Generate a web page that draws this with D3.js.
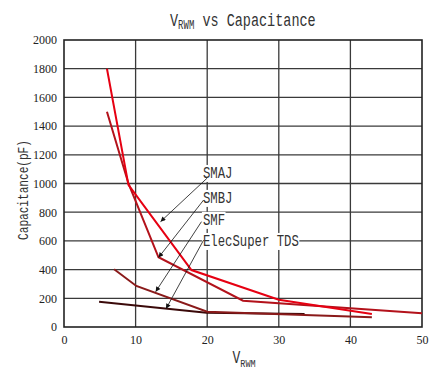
<!DOCTYPE html>
<html><head><meta charset="utf-8">
<script src="https://cdn.jsdelivr.net/npm/d3@7/dist/d3.min.js"></script>
<style>html,body{margin:0;padding:0;background:#fff;}svg{display:block;}
.tick text{font-family:"Liberation Serif","DejaVu Serif",serif !important;}</style>
</head><body>
<svg id="c" width="436" height="381"></svg>
<script>
// ---- data ----
const xTicks = [0, 10, 20, 30, 40, 50];
const yTicks = [0, 200, 400, 600, 800, 1000, 1200, 1400, 1600, 1800, 2000];
const seriesNames = ["SMAJ", "SMBJ", "SMF", "ElecSuper TDS"];
const smajV = [6, 9, 17.8, 30, 43];
const smajC = [1800, 990, 397, 190, 90];
const smbjV = [6, 9, 13.2, 25, 50];
const smbjC = [1500, 1000, 486, 183, 95];
const smfV = [7, 10.1, 20, 43];
const smfC = [402, 286, 107, 68];
const tdsV = [4.9, 19.9, 33.6];
const tdsC = [176, 100, 90];
// annotation: label anchor (V, C) and arrow tip (V, C)
const labelV = [19.4, 19.4, 19.4, 19.4];
const labelC = [1038, 864, 711, 564];
const arrowFromV = [20.0, 19.5, 19.2, 19.5];
const arrowFromC = [1038, 885, 734, 606];
const arrowToV = [13.48, 13.2, 12.8, 14.25];
const arrowToC = [734, 484, 246, 127];

const colors = ["#e60012", "#b3121b", "#8a1a1a", "#3a0909"];

const svg = d3.select("#c");
const x = d3.scaleLinear().domain([0, 50]).range([64, 422]);
const y = d3.scaleLinear().domain([0, 2000]).range([327, 40]);

// grid
const grid = svg.append("g");
grid.selectAll("line.v").data(xTicks.slice(1, -1)).join("line")
  .attr("x1", d => x(d)).attr("x2", d => x(d)).attr("y1", y(0)).attr("y2", y(2000))
  .attr("stroke", "#3a3a3a").attr("stroke-width", 1.3);
grid.selectAll("line.h").data(yTicks.slice(1, -1)).join("line")
  .attr("y1", d => y(d)).attr("y2", d => y(d)).attr("x1", x(0)).attr("x2", x(50))
  .attr("stroke", "#3a3a3a").attr("stroke-width", 1.3);
svg.append("rect").attr("x", x(0)).attr("y", y(2000)).attr("width", x(50) - x(0)).attr("height", y(0) - y(2000))
  .attr("fill", "none").attr("stroke", "#222").attr("stroke-width", 1.6);

// axes tick labels
const xAxis = d3.axisBottom(x).tickValues(xTicks).tickFormat(d3.format("d")).tickSize(0).tickPadding(0);
const gx = svg.append("g").attr("transform", `translate(0,${y(0)})`).call(xAxis)
  .attr("font-family", null).attr("font-size", null);
gx.select(".domain").remove();
gx.selectAll("text").attr("dy", null).attr("y", 17).attr("font-size", 12).attr("fill", "#222");
const yAxis = d3.axisLeft(y).tickValues(yTicks).tickFormat(d3.format("d")).tickSize(0).tickPadding(0);
const gy = svg.append("g").attr("transform", `translate(${x(0) - 7},0)`).call(yAxis)
  .attr("font-family", null).attr("font-size", null);
gy.select(".domain").remove();
gy.selectAll("text").attr("font-size", 12).attr("fill", "#222");

// series
const seriesV = [smajV, smbjV, smfV, tdsV];
const seriesC = [smajC, smbjC, smfC, tdsC];
const line = d3.line().x(d => x(d[0])).y(d => y(d[1]));
const order = [3, 2, 1, 0];
order.forEach(i => {
  const pts = seriesV[i].map((v, k) => [v, seriesC[i][k]]);
  svg.append("path").datum(pts).attr("d", line).attr("fill", "none")
    .attr("stroke", colors[i]).attr("stroke-width", 2).attr("stroke-linejoin", "miter");
});

// stretched mono text helper
const MONO = "Liberation Mono, DejaVu Sans Mono, monospace";
function stretchedText(parent, px, py, sy, rot) {
  return parent.append("g").attr("transform", `translate(${px},${py})` + (rot ? ` rotate(${rot})` : "") + ` scale(1,${sy})`);
}

// labels with white background
const labelsG = svg.append("g");
seriesNames.forEach((name, i) => {
  const g = stretchedText(labelsG, x(labelV[i]), y(labelC[i]), 1.4);
  const bg = g.append("rect").attr("fill", "#fff");
  const t = g.append("text").text(name).attr("font-family", MONO).attr("font-size", 12.3).attr("fill", "#333");
  const bb = t.node().getBBox();
  bg.attr("x", bb.x - 1).attr("y", bb.y + 0.5).attr("width", bb.width + 1.5).attr("height", bb.height - 1);
});

// arrows
svg.append("defs").append("marker").attr("id", "ah").attr("viewBox", "0 0 10 10")
  .attr("refX", 10).attr("refY", 5).attr("markerWidth", 7).attr("markerHeight", 5)
  .attr("markerUnits", "userSpaceOnUse").attr("orient", "auto")
  .append("path").attr("d", "M0,0 L10,5 L0,10 Z").attr("fill", "#111");
seriesNames.forEach((n, i) => {
  svg.append("line").attr("x1", x(arrowFromV[i])).attr("y1", y(arrowFromC[i]))
    .attr("x2", x(arrowToV[i])).attr("y2", y(arrowToC[i]))
    .attr("stroke", "#111").attr("stroke-width", 0.8).attr("marker-end", "url(#ah)");
});

// title
const tg = stretchedText(svg, 170, 26, 1.35);
const tt = tg.append("text").attr("font-family", MONO).attr("font-size", 13.5).attr("fill", "#333");
tt.append("tspan").text("V");
tt.append("tspan").text("RWM").attr("font-size", 9).attr("dy", 2.3);
tt.append("tspan").text(" vs Capacitance").attr("dy", -2.3);

// x axis title
const xg = stretchedText(svg, 232.5, 363, 1.35);
const xt = xg.append("text").attr("font-family", MONO).attr("font-size", 13).attr("fill", "#333");
xt.append("tspan").text("V");
xt.append("tspan").text("RWM").attr("font-size", 8.5).attr("dy", 3.2);

// y axis title
const yg = stretchedText(svg, 27.5, 190, 1.3, -90);
yg.append("text").text("Capacitance(pF)").attr("text-anchor", "middle")
  .attr("font-family", MONO).attr("font-size", 11.1).attr("fill", "#333");
</script>
</body></html>
